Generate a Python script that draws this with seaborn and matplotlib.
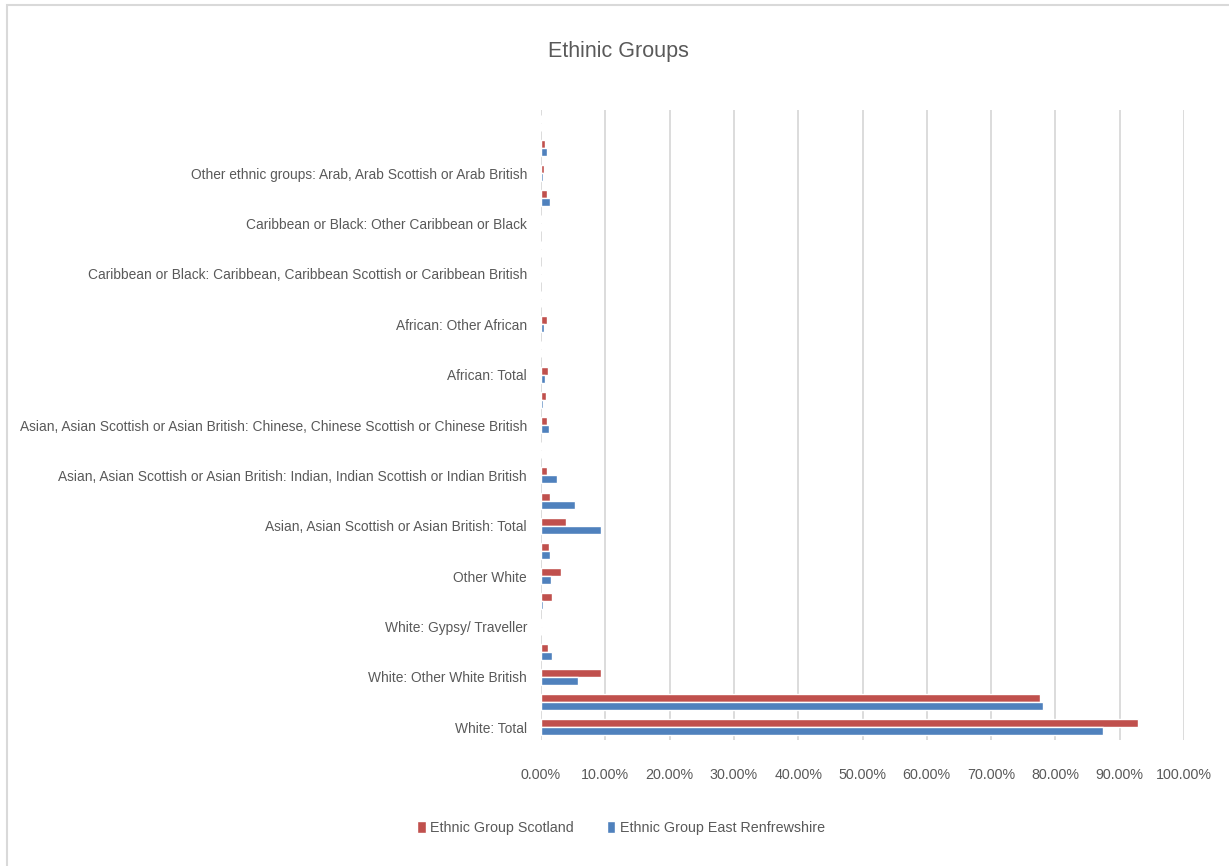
import numpy as np
import pandas as pd
import matplotlib
matplotlib.use('Agg')
import matplotlib.pyplot as plt
import seaborn as sns

# categories listed bottom -> top, as in the reference
categories = [
    'White: Total',
    'White: Scottish',
    'White: Other White British',
    'White: Irish',
    'White: Gypsy/ Traveller',
    'White: Polish',
    'Other White',
    'Mixed or multiple ethnic groups',
    'Asian, Asian Scottish or Asian British: Total',
    'Asian, Asian Scottish or Asian British: Pakistani, Pakistani Scottish or Pakistani British',
    'Asian, Asian Scottish or Asian British: Indian, Indian Scottish or Indian British',
    'Asian, Asian Scottish or Asian British: Bangladeshi, Bangladeshi Scottish or Bangladeshi British',
    'Asian, Asian Scottish or Asian British: Chinese, Chinese Scottish or Chinese British',
    'Asian, Asian Scottish or Asian British: Other Asian',
    'African: Total',
    'African: African, African Scottish or African British',
    'African: Other African',
    'Caribbean or Black: Total',
    'Caribbean or Black: Caribbean, Caribbean Scottish or Caribbean British',
    'Caribbean or Black: Black, Black Scottish or Black British',
    'Caribbean or Black: Other Caribbean or Black',
    'Other ethnic groups: Total',
    'Other ethnic groups: Arab, Arab Scottish or Arab British',
    'Other ethnic groups: Other ethnic group',
    ' ',
]

# percentages, same order
scotland = [92.8, 77.6, 9.4, 1.1, 0.1, 1.75, 3.05, 1.25, 3.9, 1.35, 1.0, 0.05, 1.0, 0.7,
            1.1, 0.0, 1.0, 0.0, 0.0, 0.0, 0.0, 1.0, 0.45, 0.55, 0.0]
east_renfrewshire = [87.4, 78.1, 5.7, 1.7, 0.0, 0.35, 1.5, 1.35, 9.4, 5.35, 2.5, 0.05, 1.25, 0.35,
                     0.55, 0.0, 0.4, 0.0, 0.0, 0.0, 0.0, 1.35, 0.35, 1.0, 0.0]

series = ['Ethnic Group Scotland', 'Ethnic Group East Renfrewshire']
colors = ['#C0504D', '#4F81BD']

df = pd.DataFrame({
    'group': categories * 2,
    'series': [series[0]] * len(categories) + [series[1]] * len(categories),
    'share': np.array(scotland + east_renfrewshire) / 100.0,
})

sns.set_theme(style='white')
plt.rcParams['font.family'] = ['Liberation Sans', 'DejaVu Sans']
txt = '#595959'
fs = 10.3

fig = plt.figure(figsize=(12.29, 8.66), dpi=100)
ax = fig.add_axes([541 / 1229, 1 - 740 / 866, (1184 - 541) / 1229, (740 - 110) / 866])

order = categories[::-1]  # top -> bottom
sns.barplot(data=df, x='share', y='group', hue='series', order=order, hue_order=series,
            palette=colors, saturation=1, width=0.64, orient='h', ax=ax, errorbar=None)

ax.set_xlim(0, 1)
ax.set_xticks(np.arange(0, 1.01, 0.1))
ax.set_xticklabels(['%.2f%%' % (v * 100) for v in np.arange(0, 1.01, 0.1)])
ax.xaxis.grid(True, color='#D9D9D9', lw=1.3)
ax.yaxis.grid(False)
for s in ax.spines.values():
    s.set_visible(False)
ax.set_xlabel('')
ax.set_ylabel('')

# every other category label, from the bottom
shown = [c if i % 2 == 0 else '' for i, c in enumerate(categories)][::-1]
ax.set_yticks(range(len(order)))
ax.set_yticklabels(shown)
ax.tick_params(axis='y', length=0, pad=10, labelsize=9.9, labelcolor=txt)
ax.tick_params(axis='x', length=0, pad=20, labelsize=fs, labelcolor=txt)

ax.set_title('Ethinic Groups', fontsize=15.5, color=txt, x=(618 - 541) / 643, y=1.0, pad=38)

sns.move_legend(ax, 'center', bbox_to_anchor=((621 - 541) / 643, -0.14), ncol=2,
                frameon=False, title=None, fontsize=fs, handlelength=0.6,
                handleheight=0.9, handletextpad=0.3, columnspacing=2.3)
for t in ax.get_legend().get_texts():
    t.set_color(txt)

# chart border
fig.add_artist(plt.Rectangle((7 / 1229, -0.01), 1.1, 1 - 5 / 866 + 0.01, transform=fig.transFigure,
                             fill=False, edgecolor='#D9D9D9', lw=1.5))

fig.savefig('out.png', dpi=100)
